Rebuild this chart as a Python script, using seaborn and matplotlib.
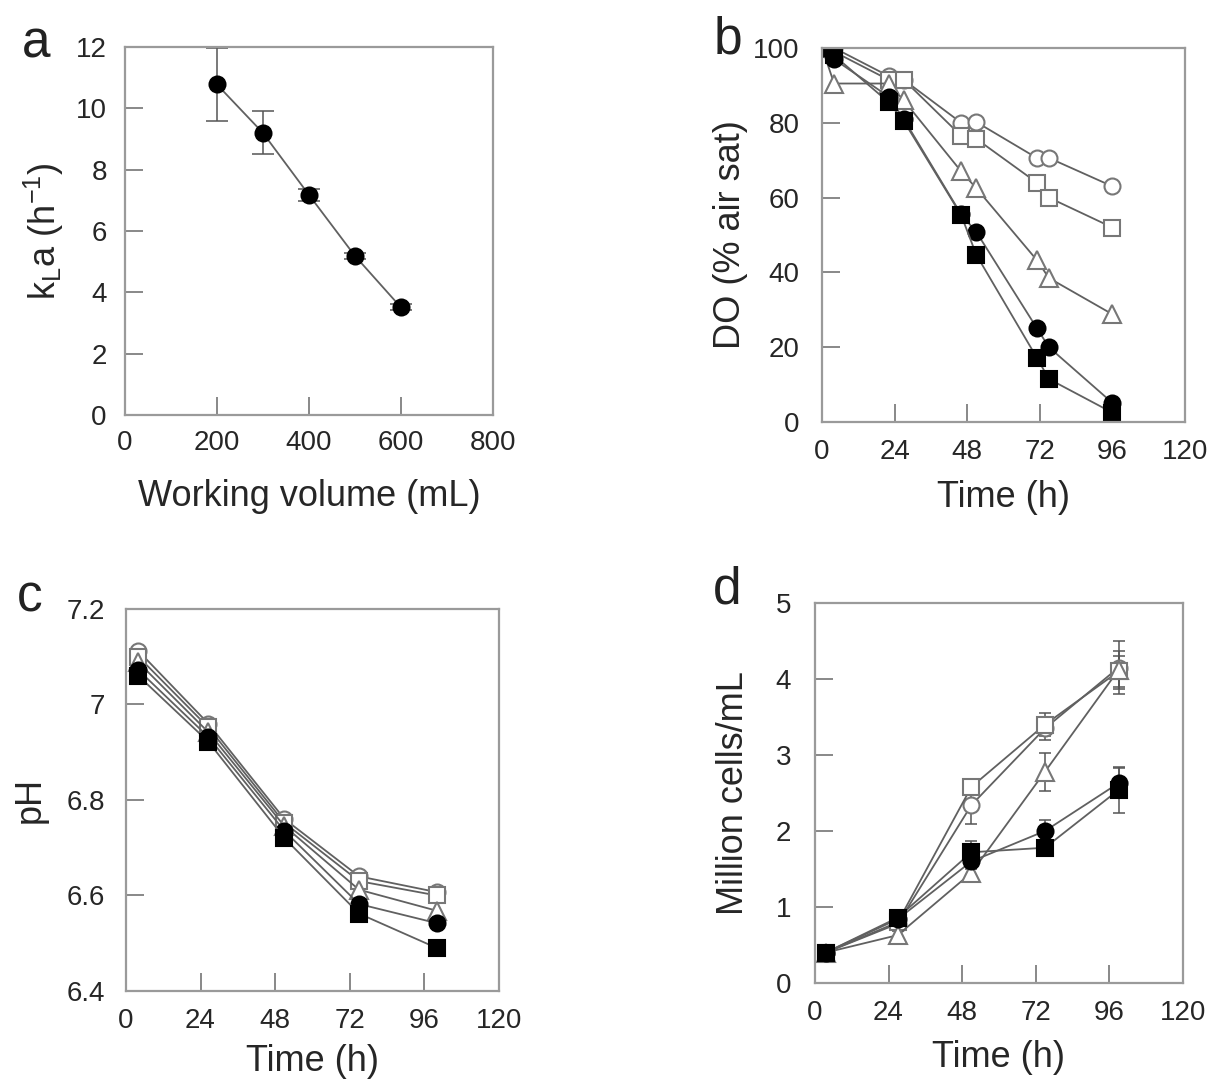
import numpy as np
import pandas as pd
import matplotlib
matplotlib.use('Agg')
import matplotlib.pyplot as plt
import seaborn as sns

# panel a: kLa vs working volume
volume = [200, 300, 400, 500, 600]
kla = [10.78, 9.2, 7.18, 5.19, 3.51]
kla_err = [1.2, 0.7, 0.2, 0.1, 0.1]

# panel b: dissolved oxygen
do_time = [0, 4, 22, 27, 46, 51, 71, 75, 96]
do_open_circle = [100, 100, 92.5, 91.5, 80, 80.2, 70.6, 70.6, 63]
do_open_square = [100, 99, 91.5, 91.5, 76.5, 75.7, 64, 60, 52]
do_triangle = [100, 90.5, 90.5, 86, 67, 62.5, 43.3, 38.5, 28.8]
do_filled_circle = [100, 97, 87, 81, 55.5, 50.8, 25.1, 20, 5.1]
do_filled_square = [100, 98, 85.5, 80.5, 55.3, 44.7, 17.2, 11.5, 2.5]

# panel c: pH
ph_time = [4, 26.5, 51, 75, 100]
ph_open_circle = [7.112, 6.960, 6.760, 6.640, 6.607]
ph_open_square = [7.100, 6.952, 6.752, 6.630, 6.600]
ph_triangle = [7.088, 6.942, 6.745, 6.612, 6.568]
ph_filled_circle = [7.072, 6.932, 6.735, 6.582, 6.542]
ph_filled_square = [7.060, 6.922, 6.720, 6.562, 6.490]

# panel d: cell density
cd_time = [3.5, 27, 51, 75, 99]
cd_open_circle = [0.40, 0.78, 2.34, 3.35, 4.15]
cd_open_circle_err = [0.03, 0.05, 0.25, 0.15, 0.35]
cd_open_square = [0.40, 0.80, 2.58, 3.40, 4.10]
cd_open_square_err = [0.03, 0.05, 0.08, 0.15, 0.20]
cd_triangle = [0.40, 0.63, 1.45, 2.78, 4.12]
cd_triangle_err = [0.03, 0.05, 0.12, 0.25, 0.25]
cd_filled_circle = [0.40, 0.84, 1.60, 2.00, 2.63]
cd_filled_circle_err = [0.03, 0.05, 0.10, 0.15, 0.20]
cd_filled_square = [0.40, 0.86, 1.72, 1.78, 2.54]
cd_filled_square_err = [0.03, 0.05, 0.15, 0.10, 0.30]

sns.set_theme(style='white')
plt.rcParams['font.family'] = ['Liberation Sans', 'DejaVu Sans']
plt.rcParams['mathtext.fontset'] = 'custom'
plt.rcParams['mathtext.rm'] = 'Liberation Sans'

LINE = '#606060'
OPEN_EDGE = '#777777'
SPINE = '#9a9a9a'

# marker style per series: (marker, face, edge, size)
styles = {
    'open_circle': ('o', 'white', OPEN_EDGE, 11.5),
    'open_square': ('s', 'white', OPEN_EDGE, 11.5),
    'triangle': ('^', 'white', OPEN_EDGE, 12.5),
    'filled_circle': ('o', 'black', 'black', 11.5),
    'filled_square': ('s', 'black', 'black', 11.5),
}

fig = plt.figure(figsize=(12.24, 10.88), dpi=100)
ax_a = fig.add_axes([0.102, 0.6186, 0.3007, 0.3382])
ax_b = fig.add_axes([0.6716, 0.6121, 0.2966, 0.3438])
ax_c = fig.add_axes([0.1029, 0.0892, 0.3047, 0.3511])
ax_d = fig.add_axes([0.6658, 0.0965, 0.3007, 0.3493])


def draw(ax, x, y, key, err=None, capsize=3):
    m, fc, ec, ms = styles[key]
    if err is not None:
        ax.errorbar(x, y, yerr=err, fmt='none', ecolor='#555555',
                    elinewidth=1.1, capsize=capsize, capthick=1.1, zorder=1)
    sns.lineplot(x=x, y=y, ax=ax, color=LINE, linewidth=1.3, marker=m,
                 markersize=ms, markerfacecolor=fc, markeredgecolor=ec,
                 markeredgewidth=1.5, errorbar=None, sort=False)


def style_axes(ax, xlim, xticks, ylim, yticks, ylabels, xpad, ypad):
    ax.set_xlim(*xlim)
    ax.set_ylim(*ylim)
    ax.set_xticks(xticks)
    ax.set_yticks(yticks)
    ax.set_yticklabels(ylabels)
    for s in ax.spines.values():
        s.set_color(SPINE)
        s.set_linewidth(1.6)
    ax.tick_params(axis='both', direction='in', length=13, width=1.4,
                   color='#888888', labelsize=20, labelcolor='#262626')
    ax.tick_params(axis='x', pad=xpad)
    ax.tick_params(axis='y', pad=ypad)
    ax.tick_params(top=False, right=False, bottom=True, left=True)


# a
draw(ax_a, volume, kla, 'filled_circle', err=kla_err, capsize=8)
style_axes(ax_a, (0, 800), [0, 200, 400, 600, 800], (0, 12),
           [0, 2, 4, 6, 8, 10, 12], ['0', '2', '4', '6', '8', '10', '12'], 11, 13)
ax_a.set_xlabel('Working volume (mL)', fontsize=26)
ax_a.set_ylabel(r'k$_\mathrm{L}$a (h$^{-1}$)', fontsize=26)
ax_a.xaxis.set_label_coords(0.5, -0.175)
ax_a.yaxis.set_label_coords(-0.16, 0.5)

# b
for key, vals in [('open_circle', do_open_circle), ('open_square', do_open_square),
                  ('triangle', do_triangle), ('filled_circle', do_filled_circle),
                  ('filled_square', do_filled_square)]:
    draw(ax_b, do_time, vals, key)
style_axes(ax_b, (0, 120), [0, 24, 48, 72, 96, 120], (0, 100),
           [0, 20, 40, 60, 80, 100], ['0', '20', '40', '60', '80', '100'], 12, 16)
ax_b.set_xlabel('Time (h)', fontsize=26)
ax_b.set_ylabel('DO (% air sat)', fontsize=26)
ax_b.xaxis.set_label_coords(0.5, -0.155)
ax_b.yaxis.set_label_coords(-0.205, 0.5)

# c
for key, vals in [('open_circle', ph_open_circle), ('open_square', ph_open_square),
                  ('triangle', ph_triangle), ('filled_circle', ph_filled_circle),
                  ('filled_square', ph_filled_square)]:
    draw(ax_c, ph_time, vals, key)
style_axes(ax_c, (0, 120), [0, 24, 48, 72, 96, 120], (6.4, 7.2),
           [6.4, 6.6, 6.8, 7.0, 7.2], ['6.4', '6.6', '6.8', '7', '7.2'], 12, 15)
ax_c.set_xlabel('Time (h)', fontsize=26)
ax_c.set_ylabel('pH', fontsize=26)
ax_c.xaxis.set_label_coords(0.5, -0.14)
ax_c.yaxis.set_label_coords(-0.21, 0.5)

# d
for key, vals, err in [('open_circle', cd_open_circle, cd_open_circle_err),
                       ('open_square', cd_open_square, cd_open_square_err),
                       ('triangle', cd_triangle, cd_triangle_err),
                       ('filled_circle', cd_filled_circle, cd_filled_circle_err),
                       ('filled_square', cd_filled_square, cd_filled_square_err)]:
    draw(ax_d, cd_time, vals, key, err=err, capsize=4)
style_axes(ax_d, (0, 120), [0, 24, 48, 72, 96, 120], (0, 5),
           [0, 1, 2, 3, 4, 5], ['0', '1', '2', '3', '4', '5'], 12, 17)
ax_d.set_xlabel('Time (h)', fontsize=26)
ax_d.set_ylabel('Million cells/mL', fontsize=26)
ax_d.xaxis.set_label_coords(0.5, -0.15)
ax_d.yaxis.set_label_coords(-0.175, 0.5)

# panel letters
for lbl, x, y in [('a', 36, 44), ('b', 728, 40), ('c', 30, 598), ('d', 727, 590)]:
    fig.text(x / 1224, 1 - y / 1088, lbl, fontsize=37, ha='center', va='center',
             color='#222222')

fig.savefig('out.png', dpi=100)
